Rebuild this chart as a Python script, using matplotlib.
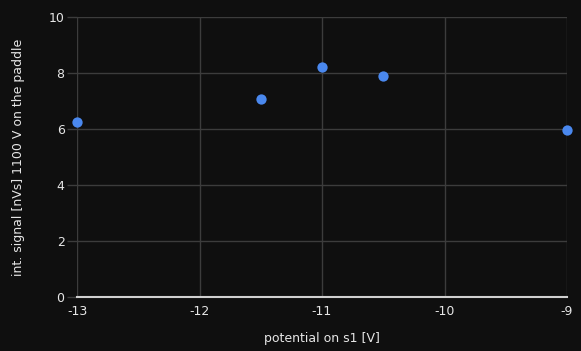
import matplotlib
matplotlib.use("Agg")
import matplotlib.pyplot as plt

plt.rcParams["axes.unicode_minus"] = False

# data
potential = [-13, -11.5, -11, -10.5, -9]
signal = [6.24, 7.07, 8.23, 7.9, 5.96]
x_ticks = [-13, -12, -11, -10, -9]
y_ticks = [0, 2, 4, 6, 8, 10]

bg = "#0f0f0f"
grid_c = "#3c3c3c"
text_c = "#e6e6e6"

fig = plt.figure(figsize=(5.81, 3.51), dpi=100, facecolor=bg)
ax = fig.add_axes([77 / 581, 54 / 351, 490 / 581, 280 / 351], facecolor=bg)

ax.scatter(potential, signal, s=55, color="#4a88ee", zorder=3, clip_on=False, linewidths=0)

ax.set_xlim(-13, -9)
ax.set_ylim(0, 10)
ax.set_xticks(x_ticks)
ax.set_yticks(y_ticks)
ax.grid(True, color=grid_c, linewidth=1)
ax.set_axisbelow(True)

for side in ["top", "right", "left"]:
    ax.spines[side].set_visible(False)
ax.spines["bottom"].set_color("#d0d0d0")
ax.spines["bottom"].set_linewidth(1.5)

ax.tick_params(axis="x", length=0, pad=6, colors=text_c, labelsize=9)
ax.tick_params(axis="y", length=7, width=1, color=grid_c, pad=2, labelcolor=text_c, labelsize=9)

ax.set_xlabel("potential on s1 [V]", color=text_c, fontsize=9, labelpad=10)
ax.set_ylabel("int. signal [nVs] 1100 V on the paddle", color=text_c, fontsize=9, labelpad=17)

fig.savefig("out.png", dpi=100, facecolor=bg)
